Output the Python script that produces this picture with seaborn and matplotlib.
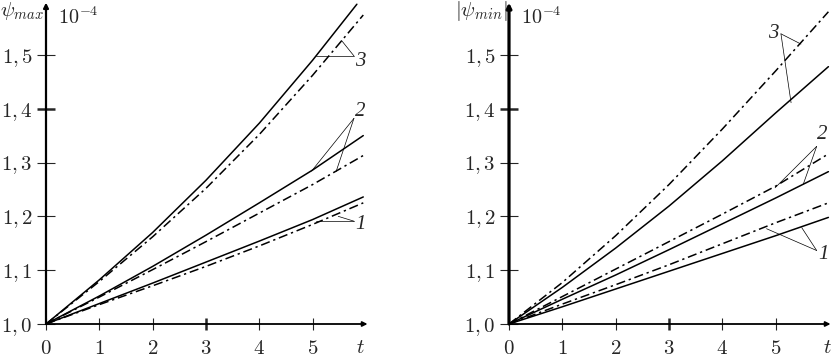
import numpy as np
import pandas as pd
import matplotlib
matplotlib.use('Agg')
import matplotlib.pyplot as plt
import seaborn as sns

# --- values (units of 1e-4) ---
t_left = [0, 1, 2, 3, 4, 5, 5.95]
t_left_s3 = [0, 1, 2, 3, 4, 5, 5.83]
t_right = [0, 1, 2, 3, 4, 5, 5.99]

# left panel: psi_max
max_solid_1 = [1.0, 1.038, 1.076, 1.115, 1.154, 1.194, 1.236]
max_dash_1 = [1.0, 1.036, 1.071, 1.107, 1.145, 1.185, 1.225]
max_solid_2 = [1.0, 1.052, 1.107, 1.165, 1.225, 1.286, 1.350]
max_dash_2 = [1.0, 1.050, 1.101, 1.153, 1.206, 1.259, 1.313]
max_solid_3 = [1.0, 1.082, 1.170, 1.267, 1.373, 1.490, 1.594]
max_dash_3 = [1.0, 1.079, 1.162, 1.252, 1.352, 1.462, 1.574]

# right panel: |psi_min|
min_solid_1 = [1.0, 1.032, 1.065, 1.098, 1.131, 1.164, 1.198]
min_dash_1 = [1.0, 1.037, 1.073, 1.110, 1.149, 1.188, 1.225]
min_solid_2 = [1.0, 1.046, 1.091, 1.138, 1.186, 1.234, 1.283]
min_dash_2 = [1.0, 1.051, 1.102, 1.153, 1.204, 1.256, 1.316]
min_solid_3 = [1.0, 1.068, 1.141, 1.219, 1.303, 1.392, 1.478]
min_dash_3 = [1.0, 1.077, 1.164, 1.259, 1.362, 1.470, 1.580]

x_ticks = [0, 1, 2, 3, 4, 5]
x_tick_labels = ['$0$', '$1$', '$2$', '$3$', '$4$', '$5$']
y_ticks = [1.0, 1.1, 1.2, 1.3, 1.4, 1.5]
y_tick_labels = [r'$1{,}\,0$', r'$1{,}\,1$', r'$1{,}\,2$',
                 r'$1{,}\,3$', r'$1{,}\,4$', r'$1{,}\,5$']


def make_frame(curves):
    # curves: list of (t, values, curve number, kind)
    parts = []
    for t, vals, num, kind in curves:
        parts.append(pd.DataFrame({'t': t, 'psi': vals, 'curve': num, 'kind': kind}))
    return pd.concat(parts, ignore_index=True)


df_max = make_frame([
    (t_left, max_solid_1, 1, 'solid'), (t_left, max_dash_1, 1, 'dashdot'),
    (t_left, max_solid_2, 2, 'solid'), (t_left, max_dash_2, 2, 'dashdot'),
    (t_left_s3, max_solid_3, 3, 'solid'), (t_left, max_dash_3, 3, 'dashdot'),
])
df_min = make_frame([
    (t_right, min_solid_1, 1, 'solid'), (t_right, min_dash_1, 1, 'dashdot'),
    (t_right, min_solid_2, 2, 'solid'), (t_right, min_dash_2, 2, 'dashdot'),
    (t_right, min_solid_3, 3, 'solid'), (t_right, min_dash_3, 3, 'dashdot'),
])

sns.set_style('white')
plt.rcParams['mathtext.fontset'] = 'cm'
plt.rcParams['font.family'] = ['DejaVu Serif']

fig = plt.figure(figsize=(8.33, 3.56), dpi=100)
ax_l = fig.add_axes([46 / 833, 32 / 356, 321 / 833, 323 / 356])
ax_r = fig.add_axes([509 / 833, 32 / 356, 321 / 833, 323 / 356])

line_dashes = {'solid': '', 'dashdot': (6, 2.5, 1.5, 2.5)}


def draw_panel(ax, df, ylabel, ylabel_x, yaxis_lw, t_label_x, leaders):
    sns.lineplot(data=df, x='t', y='psi', units='curve', style='kind',
                 dashes=line_dashes, color='black', linewidth=1.1,
                 estimator=None, sort=False, legend=False, ax=ax)
    for ln in ax.get_lines():
        ln.set_clip_on(False)
    ax.set_xlim(0, 6.02)
    ax.set_ylim(1.0, 1.6)
    for s in ax.spines.values():
        s.set_visible(False)
    ax.set_xlabel('')
    ax.set_ylabel('')

    # arrowed axes
    ax.annotate('', xy=(6.03, 1.0), xytext=(0, 1.0), annotation_clip=False,
                arrowprops=dict(arrowstyle='-|>', lw=1.3, color='black',
                                mutation_scale=7, shrinkA=0, shrinkB=0))
    ax.annotate('', xy=(0, 1.597), xytext=(0, 1.0), annotation_clip=False,
                arrowprops=dict(arrowstyle='-|>', lw=yaxis_lw, color='black',
                                mutation_scale=7, shrinkA=0, shrinkB=0))

    ax.set_xticks(x_ticks)
    ax.set_xticklabels(x_tick_labels)
    ax.set_yticks(y_ticks)
    ax.set_yticklabels(y_tick_labels)
    ax.tick_params(axis='x', direction='inout', length=9, width=0.8,
                   pad=6, labelsize=15, bottom=True)
    ax.tick_params(axis='y', direction='inout', length=13, width=0.8,
                   pad=3.5, labelsize=15, left=True)
    # the 3 and 1,4 ticks look heavier in the original
    ax.xaxis.get_major_ticks()[3].tick1line.set_markeredgewidth(1.8)
    ax.yaxis.get_major_ticks()[4].tick1line.set_markeredgewidth(1.8)

    ax.text(ylabel_x, 1.572, ylabel, ha='right', va='baseline', fontsize=15)
    ax.text(0.22, 1.558, r'$10^{-4}$', ha='left', va='baseline', fontsize=14.5)
    ax.text(t_label_x, 0.946, r'$t$', ha='center', va='baseline', fontsize=15)

    for label, pos, vertex, ends in leaders:
        for e in ends:
            ax.plot([vertex[0], e[0]], [vertex[1], e[1]], color='black',
                    lw=0.5, clip_on=False)
        ax.text(pos[0], pos[1], label, ha='left', va='center', fontsize=15,
                family='Liberation Serif', style='italic')


left_leaders = [
    ('3', (5.80, 1.488), (5.775, 1.498), [(5.06, 1.498), (5.54, 1.527)]),
    ('2', (5.80, 1.394), (5.775, 1.382), [(4.98, 1.284), (5.44, 1.283)]),
    ('1', (5.80, 1.185), (5.775, 1.191), [(5.06, 1.191), (5.48, 1.200)]),
]
right_leaders = [
    ('3', (4.86, 1.540), (5.10, 1.539), [(5.475, 1.520), (5.29, 1.411)]),
    ('2', (5.78, 1.352), (5.77, 1.330), [(4.99, 1.253), (5.52, 1.260)]),
    ('1', (5.80, 1.130), (5.77, 1.1365), [(4.83, 1.177), (5.49, 1.179)]),
]

draw_panel(ax_l, df_max, r'$\psi_{max}$', -0.05, 1.6, 5.9, left_leaders)
draw_panel(ax_r, df_min, r'$|\psi_{min}|$', -0.03, 2.3, 5.98, right_leaders)

fig.savefig('out.png', dpi=100)
